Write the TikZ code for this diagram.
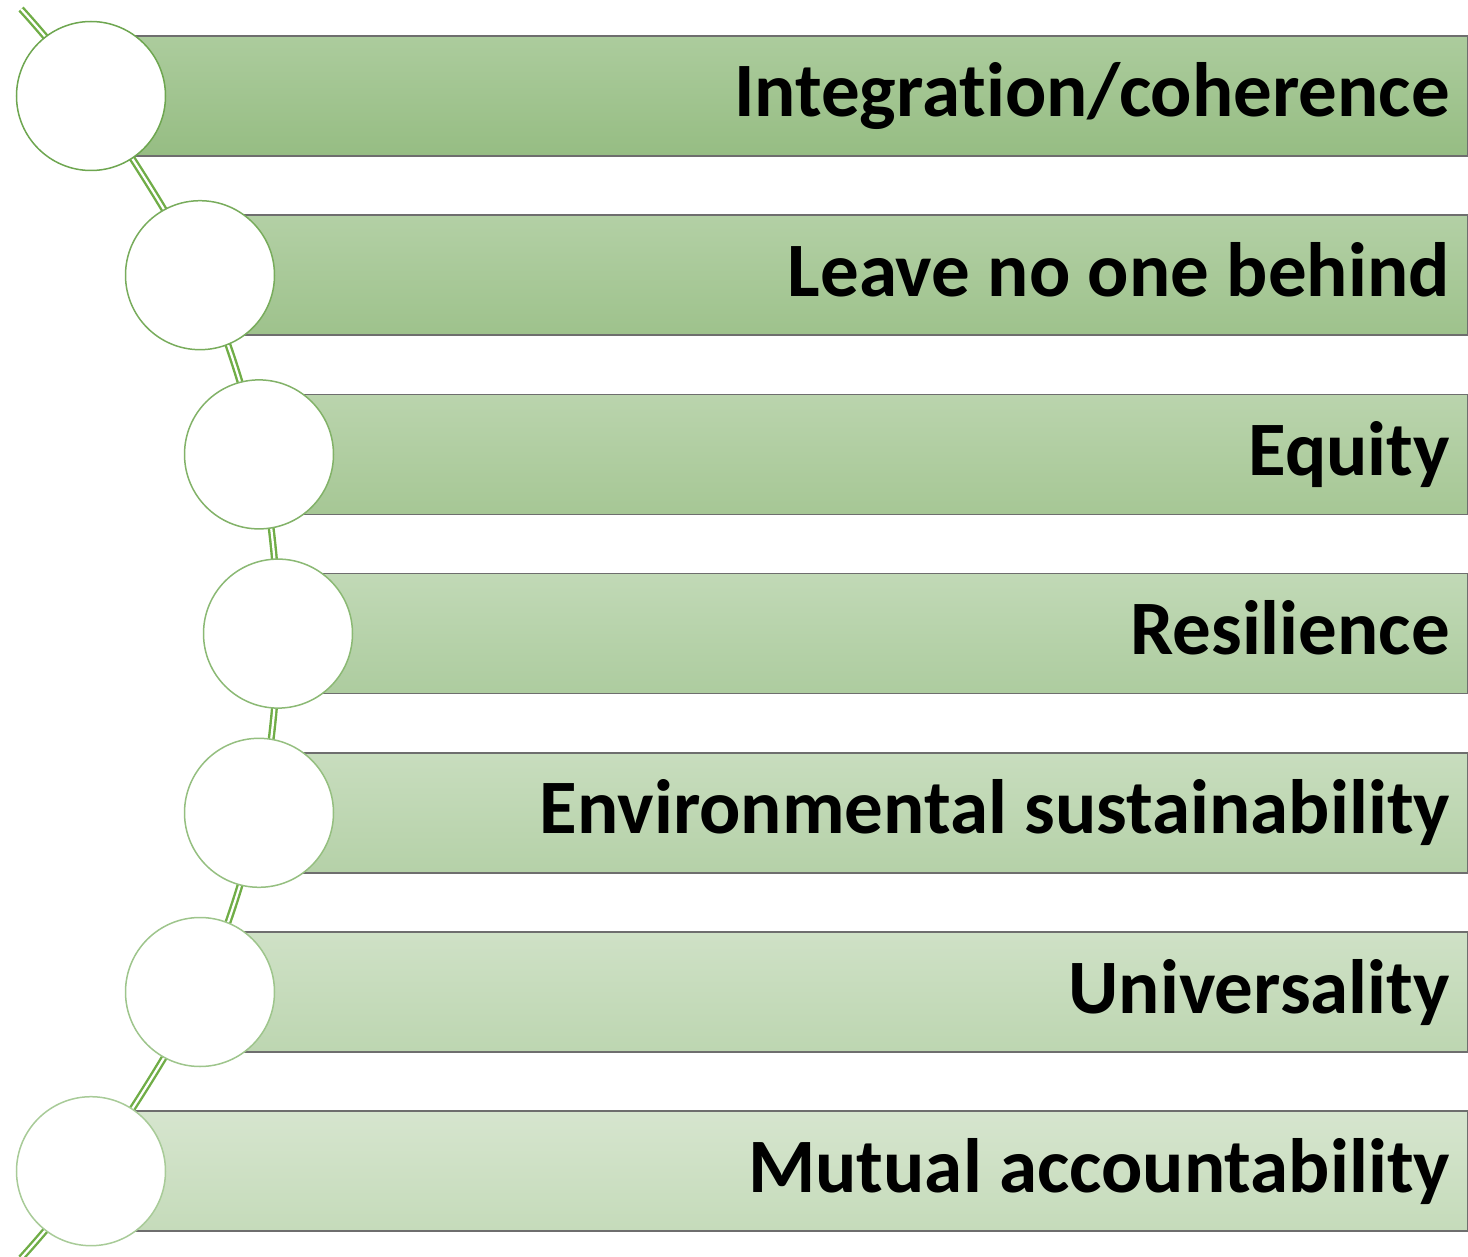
\documentclass[tikz,border=0pt]{standalone}
\usepackage{fontspec}
\setmainfont[Ligatures={NoCommon}]{Carlito}
\usetikzlibrary{backgrounds}
\definecolor{barline}{RGB}{110,110,110}
\definecolor{linkgreen}{RGB}{112,173,71}
\definecolor{t1}{RGB}{172,204,157}
\definecolor{t2}{RGB}{179,208,165}
\definecolor{t3}{RGB}{186,212,173}
\definecolor{t4}{RGB}{193,217,182}
\definecolor{t5}{RGB}{200,221,190}
\definecolor{t6}{RGB}{207,225,198}
\definecolor{t7}{RGB}{214,229,206}
\definecolor{u1}{RGB}{150,189,131}
\definecolor{u2}{RGB}{158,194,140}
\definecolor{u3}{RGB}{166,199,149}
\definecolor{u4}{RGB}{173,204,159}
\definecolor{u5}{RGB}{181,209,168}
\definecolor{u6}{RGB}{189,214,177}
\definecolor{u7}{RGB}{197,219,186}
\definecolor{o1}{RGB}{110,166,80}
\definecolor{o2}{RGB}{120,172,92}
\definecolor{o3}{RGB}{130,178,104}
\definecolor{o4}{RGB}{139,185,116}
\definecolor{o5}{RGB}{149,191,128}
\definecolor{o6}{RGB}{158,197,140}
\definecolor{o7}{RGB}{168,203,152}
\begin{document}
\begin{tikzpicture}[x=1pt,y=-1pt,
  bar/.style={draw=barline, line width=1.5pt, rectangle, anchor=west, minimum height=120pt, inner sep=0pt},
  dot/.style={circle, fill=white, minimum size=149pt, inner sep=0pt, line width=1.5pt},
  lbl/.style={anchor=base east, inner sep=0pt, font=\fontsize{77}{92}\selectfont\bfseries},
  link/.style={draw=linkgreen, line width=2.4pt, double=white, double distance=2.2pt}]
\useasboundingbox (0,0) rectangle (1468,1257);
\clip (0,0) rectangle (1468,1257);
% bars
\node[bar, top color=t1, bottom color=u1, minimum width=1376pt] (b1) at (91,96) {};
\node[bar, top color=t2, bottom color=u2, minimum width=1267pt] (b2) at (200,275.2) {};
\node[bar, top color=t3, bottom color=u3, minimum width=1208pt] (b3) at (259,454.4) {};
\node[bar, top color=t4, bottom color=u4, minimum width=1189pt] (b4) at (278,633.6) {};
\node[bar, top color=t5, bottom color=u5, minimum width=1208pt] (b5) at (259,812.8) {};
\node[bar, top color=t6, bottom color=u6, minimum width=1267pt] (b6) at (200,992) {};
\node[bar, top color=t7, bottom color=u7, minimum width=1376pt] (b7) at (91,1171.2) {};
% circles
\node[dot, draw=o1] (c1) at (91,96) {};
\node[dot, draw=o2] (c2) at (200,275.2) {};
\node[dot, draw=o3] (c3) at (259,454.4) {};
\node[dot, draw=o4] (c4) at (278,633.6) {};
\node[dot, draw=o5] (c5) at (259,812.8) {};
\node[dot, draw=o6] (c6) at (200,992) {};
\node[dot, draw=o7] (c7) at (91,1171.2) {};
% labels
\node[lbl] (l1) at (1450,117) {Integration/coherence};
\node[lbl] (l2) at (1450,296.2) {Leave no one behind};
\node[lbl] (l3) at (1450,475.4) {Equity};
\node[lbl] (l4) at (1450,654.6) {Resilience};
\node[lbl] (l5) at (1450,833.8) {Environmental sustainability};
\node[lbl] (l6) at (1450,1013) {Universality};
\node[lbl] (l7) at (1450,1192.2) {Mutual accountability};
% connector
\coordinate (ltop) at (21,9);
\coordinate (lbot) at (21,1258.2);
\begin{scope}[on background layer]
\draw[link] plot[smooth, tension=0.55] coordinates {(ltop) (c1.center) (c2.center) (c3.center) (c4.center) (c5.center) (c6.center) (c7.center) (lbot)};
\end{scope}
\end{tikzpicture}
\end{document}
